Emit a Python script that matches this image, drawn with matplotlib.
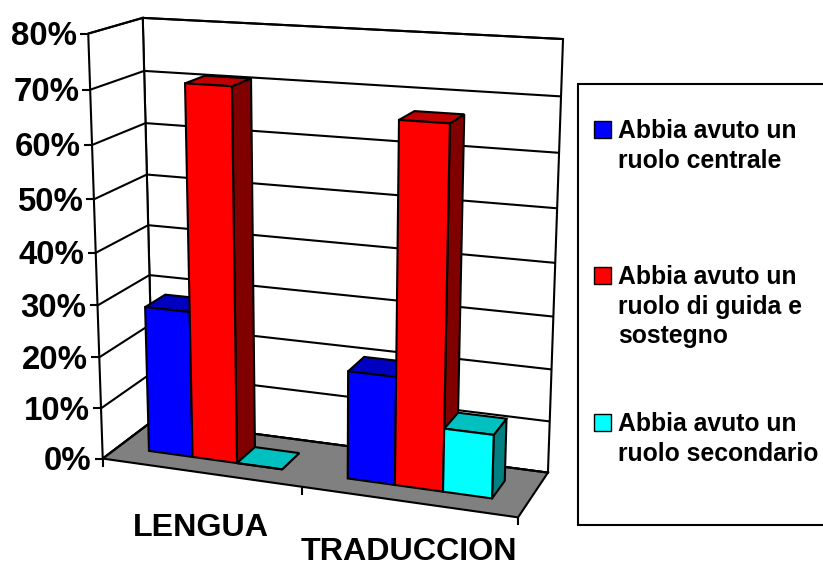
import numpy as np
import matplotlib
matplotlib.use("Agg")
import matplotlib.pyplot as plt
from matplotlib.patches import Polygon, Rectangle

categories = ["LENGUA", "TRADUCCION"]
series_names = ["Abbia avuto un\nruolo centrale",
                "Abbia avuto un\nruolo di guida e\nsostegno",
                "Abbia avuto un\nruolo secondario"]
lengua = [28.5, 71, 0]
traduccion = [20.6, 67, 12]
values = [lengua, traduccion]
yticks = [0, 10, 20, 30, 40, 50, 60, 70, 80]
front_colors = ["#0000FF", "#FF0000", "#00FFFF"]
top_colors = ["#0000C0", "#C00000", "#00C0C0"]
side_colors = ["#000080", "#800000", "#008080"]
legend_rows = [129, 275, 422]

plt.rcParams["font.family"] = ["Liberation Sans", "DejaVu Sans"]
fig = plt.figure(figsize=(8.23, 5.67), dpi=100)
ax = fig.add_axes([0, 0, 1, 1])
ax.set_xlim(0, 823)
ax.set_ylim(567, 0)
ax.axis("off")

# Calibration of the oblique 3D scale: (category pos, depth, value) -> pixel
anchors = [((0, 0, 0), (103, 459)), ((1, 0, 0), (518, 517)),
           ((0, 1, 0), (153, 420)), ((1, 1, 0), (548, 473)),
           ((0, 1, 80), (143, 18)), ((1, 1, 80), (563, 39)),
           ((0, 0, 80), (88, 33.5))]
rows, rhs = [], []
for (x, d, z), (u, v) in anchors:
    z = z / 80
    rows.append([x, d, z, 1, 0, 0, 0, 0, -u * x, -u * d, -u * z]); rhs.append(u)
    rows.append([0, 0, 0, 0, x, d, z, 1, -v * x, -v * d, -v * z]); rhs.append(v)
h = np.linalg.lstsq(np.array(rows, float), np.array(rhs, float), rcond=None)[0]
H = np.append(h, 1).reshape(3, 4)


def proj(x, d, z):
    p = H @ np.array([x, d, z / 80, 1.0])
    return p[0] / p[2], p[1] / p[2]


LW = 1.5
EC = "black"


def poly(points, fc, z=1, ec=EC):
    ax.add_patch(Polygon([proj(*p) for p in points], closed=True, fc=fc, ec=ec,
                         lw=LW, joinstyle="miter", zorder=z))


def line(a, b, z=1):
    pa, pb = proj(*a), proj(*b)
    ax.plot([pa[0], pb[0]], [pa[1], pb[1]], color=EC, lw=LW, zorder=z,
            solid_capstyle="butt")


# walls and floor
poly([(0, 1, 0), (1, 1, 0), (1, 1, 80), (0, 1, 80)], "white")
poly([(0, 0, 0), (0, 1, 0), (0, 1, 80), (0, 0, 80)], "white")
poly([(0, 0, 0), (1, 0, 0), (1, 1, 0), (0, 1, 0)], "#808080")

# gridlines and ticks
for t in yticks:
    line((0, 0, t), (0, 1, t))
    line((0, 1, t), (1, 1, t))
    u, v = proj(0, 0, t)
    ax.plot([u - 8, u], [v, v], color=EC, lw=LW, solid_capstyle="butt")
    ax.text(u - 11, v + 3, f"{t}%", ha="right", va="center",
            fontsize=23.8, fontweight="bold")

n = len(categories)
for i in range(n + 1):
    u, v = proj(i / n, 0, 0)
    ax.plot([u, u], [v, v + 8], color=EC, lw=LW, solid_capstyle="butt")

# bars
gap = 1.42
d0, d1 = 0.3, 0.7
for c, vals in enumerate(values):
    w = (1 / n) / (len(vals) + gap)
    start = c / n + gap * w / 2
    for s, val in enumerate(vals):
        x0, x1 = start + s * w, start + (s + 1) * w
        zb = 5
        poly([(x1, d0, 0), (x1, d1, 0), (x1, d1, val), (x1, d0, val)], side_colors[s], zb)
        poly([(x0, d0, val), (x1, d0, val), (x1, d1, val), (x0, d1, val)], top_colors[s], zb)
        poly([(x0, d0, 0), (x1, d0, 0), (x1, d0, val), (x0, d0, val)], front_colors[s], zb)

# category labels
label_xy = [(201, 536), (409, 560)]
for name, (u, v) in zip(categories, label_xy):
    ax.text(u, v, name, ha="center", va="baseline", fontsize=23.2, fontweight="bold")

# legend
ax.add_patch(Rectangle((578, 84), 260, 441, fc="white", ec=EC, lw=LW, zorder=1))
for name, col, y in zip(series_names, front_colors, legend_rows):
    ax.add_patch(Rectangle((594, y - 8), 17, 17, fc=col, ec=EC, lw=1, zorder=2))
    ax.text(618, y - 10, name, ha="left", va="top", fontsize=17.8, fontweight="bold",
            linespacing=1.3, zorder=3)

fig.savefig("out.png", dpi=100)
